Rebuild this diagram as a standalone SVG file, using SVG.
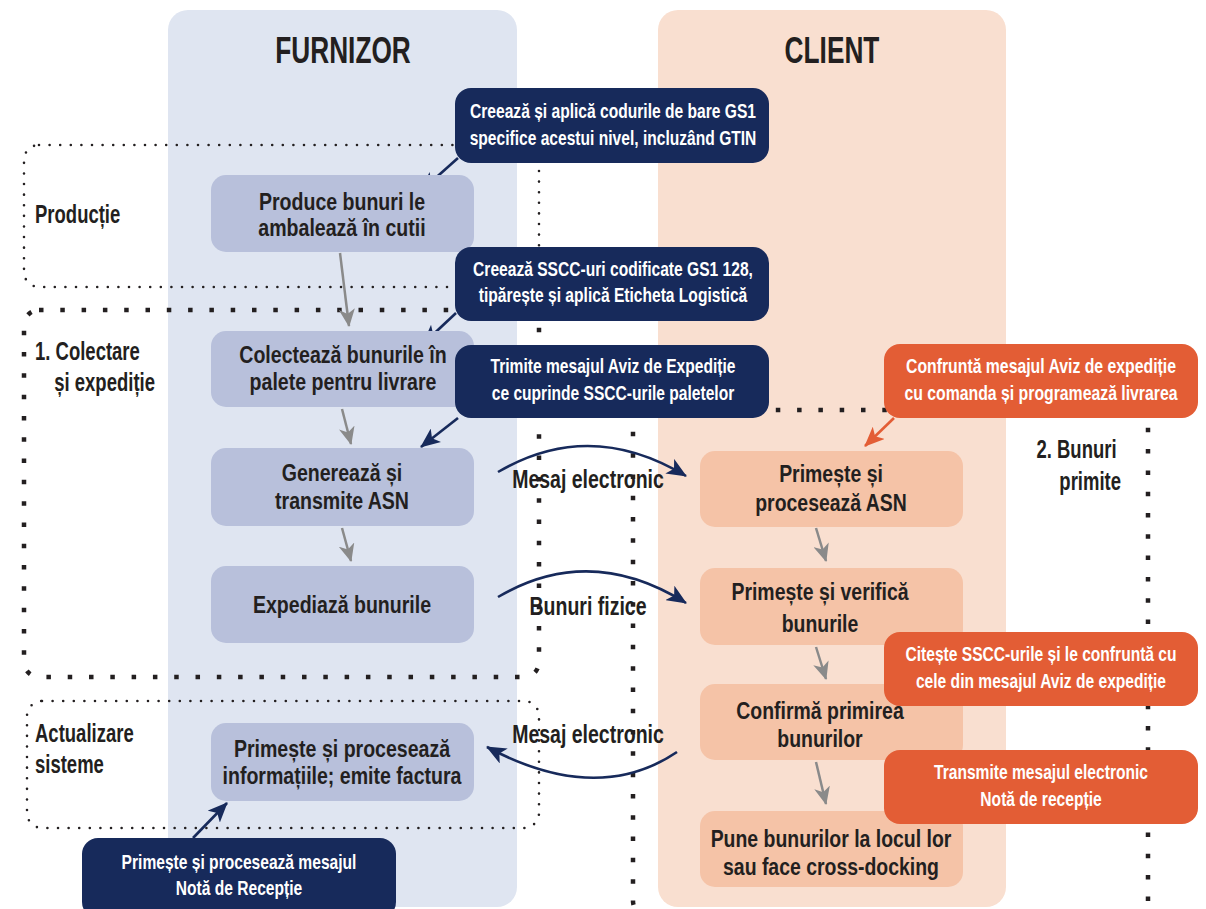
<svg xmlns="http://www.w3.org/2000/svg" width="1206" height="909" viewBox="0 0 1206 909">
<style>
text{font-family:"Liberation Sans",Arial,sans-serif;font-weight:bold;}
.dk{fill:#231f20;font-size:25px;}
.nt{fill:#231f20;font-size:24px;}
.ti{fill:#231f20;font-size:37px;}
.wh{fill:#ffffff;font-size:20px;}
.nf{fill:#b8c0db;}
.nc{fill:#f5c3a7;}
.cn{fill:#172a5b;}
.co{fill:#e35d35;}
.sd{fill:none;stroke:#231f20;stroke-width:2.6;stroke-dasharray:0 10.6;stroke-linecap:round;}
.hd{fill:none;stroke:#231f20;stroke-width:4.5;stroke-dasharray:4.5 16.8;}
.ag{fill:none;stroke:#8a8a8a;stroke-width:2.5;}
.an{fill:none;stroke:#172a5b;stroke-width:2.6;}
.ao{fill:none;stroke:#e35d35;stroke-width:2.6;}
</style>
<defs>
<marker id="mg" viewBox="0 0 18 16" refX="17" refY="8" markerWidth="18" markerHeight="16" orient="auto" markerUnits="userSpaceOnUse"><path d="M0,0 L18,8 L0,16 L5,8 z" fill="#8a8a8a"/></marker>
<marker id="mn" viewBox="0 0 20 17" refX="19" refY="8.5" markerWidth="20" markerHeight="17" orient="auto" markerUnits="userSpaceOnUse"><path d="M0,0 L20,8.5 L0,17 L5,8.5 z" fill="#172a5b"/></marker>
<marker id="mo" viewBox="0 0 20 17" refX="19" refY="8.5" markerWidth="20" markerHeight="17" orient="auto" markerUnits="userSpaceOnUse"><path d="M0,0 L20,8.5 L0,17 L5,8.5 z" fill="#e35d35"/></marker>
</defs>

<g id="lanes">
<rect x="168" y="10" width="349" height="897" rx="20" fill="#dfe5f1"/>
<rect x="658" y="10" width="348" height="897" rx="20" fill="#f9dfd0"/>
<text class="ti" transform="translate(343,0) scale(0.71,1)" text-anchor="middle" x="0" y="63">FURNIZOR</text>
<text class="ti" transform="translate(832,0) scale(0.71,1)" text-anchor="middle" x="0" y="63">CLIENT</text>
</g>

<g id="section-labels">
<text class="dk" transform="translate(35,0) scale(0.74,1)" x="0" y="223">Producție</text>
<text class="dk" transform="translate(35,0) scale(0.74,1)"><tspan x="0" y="360">1. Colectare</tspan><tspan x="26" y="391">și expediție</tspan></text>
<text class="dk" transform="translate(35,0) scale(0.74,1)"><tspan x="0" y="742">Actualizare</tspan><tspan x="0" y="773">sisteme</tspan></text>
<text class="dk" transform="translate(1121,0) scale(0.74,1)" text-anchor="end"><tspan x="-6" y="458">2. Bunuri</tspan><tspan x="0" y="490">primite</tspan></text>
</g>

<g id="flow-labels">
<text class="dk" transform="translate(588,0) scale(0.78,1)" text-anchor="middle" x="0" y="488">Mesaj electronic</text>
<text class="dk" transform="translate(588,0) scale(0.78,1)" text-anchor="middle" x="0" y="615">Bunuri fizice</text>
<text class="dk" transform="translate(588,0) scale(0.78,1)" text-anchor="middle" x="0" y="743">Mesaj electronic</text>
</g>

<g id="sections">
<rect class="sd" x="24" y="145" width="515" height="142" rx="15"/>
<rect class="hd" x="24" y="310" width="515" height="367" rx="15"/>
<rect class="sd" x="27" y="701" width="512" height="127" rx="15"/>
<rect class="hd" x="633" y="410" width="515" height="506" rx="15"/>
</g>

<g id="connectors">
<path class="ag" d="M340,253 L349,326" marker-end="url(#mg)"/>
<path class="ag" d="M342,409 L351,444" marker-end="url(#mg)"/>
<path class="ag" d="M342,528 L351,561" marker-end="url(#mg)"/>
<path class="ag" d="M816,528 L826,561" marker-end="url(#mg)"/>
<path class="ag" d="M816,647 L826,679" marker-end="url(#mg)"/>
<path class="ag" d="M816,762 L826,804" marker-end="url(#mg)"/>
<path class="an" d="M498,472 Q590,418 686,476" marker-end="url(#mn)"/>
<path class="an" d="M498,597 Q590,543 686,603" marker-end="url(#mn)"/>
<path class="an" d="M677,752 Q597,806 487,747" marker-end="url(#mn)"/>
<path class="an" d="M458,158 L421,191" marker-end="url(#mn)"/>
<path class="an" d="M456,313 L423,344" marker-end="url(#mn)"/>
<path class="an" d="M458,418 L421,447" marker-end="url(#mn)"/>
<path class="an" d="M193,838 L227,803" marker-end="url(#mn)"/>
<path class="ao" d="M894,418 L865,446" marker-end="url(#mo)"/>
<path class="ao" d="M890,641 L865,622" marker-end="url(#mo)"/>
<path class="ao" d="M888,757 L865,737" marker-end="url(#mo)"/>
</g>

<g id="n-produce">
<rect class="nf" x="211" y="175" width="263" height="77" rx="15"/>
<text class="nt" transform="translate(342,0) scale(0.815,1)" text-anchor="middle"><tspan x="0" y="210">Produce bunuri le</tspan><tspan x="0" y="236">ambalează în cutii</tspan></text>
</g>
<g id="n-colecteaza">
<rect class="nf" x="211" y="331" width="263" height="76" rx="15"/>
<text class="nt" transform="translate(343,0) scale(0.815,1)" text-anchor="middle"><tspan x="0" y="363">Colectează bunurile în</tspan><tspan x="0" y="390">palete pentru livrare</tspan></text>
</g>
<g id="n-genereaza">
<rect class="nf" x="211" y="448" width="263" height="78" rx="15"/>
<text class="nt" transform="translate(342,0) scale(0.815,1)" text-anchor="middle"><tspan x="0" y="481">Generează și</tspan><tspan x="0" y="509">transmite ASN</tspan></text>
</g>
<g id="n-expediaza">
<rect class="nf" x="211" y="566" width="263" height="77" rx="15"/>
<text class="nt" transform="translate(342,0) scale(0.815,1)" text-anchor="middle" x="0" y="613">Expediază bunurile</text>
</g>
<g id="n-factura">
<rect class="nf" x="211" y="723" width="263" height="78" rx="15"/>
<text class="nt" transform="translate(342,0) scale(0.815,1)" text-anchor="middle"><tspan x="0" y="757">Primește și procesează</tspan><tspan x="0" y="784">informațiile; emite factura</tspan></text>
</g>

<g id="n-asn">
<rect class="nc" x="700" y="451" width="263" height="76" rx="15"/>
<text class="nt" transform="translate(831,0) scale(0.81,1)" text-anchor="middle"><tspan x="0" y="482">Primește și</tspan><tspan x="0" y="511">procesează ASN</tspan></text>
</g>
<g id="n-verifica">
<rect class="nc" x="700" y="568" width="263" height="77" rx="15"/>
<text class="nt" transform="translate(820,0) scale(0.81,1)" text-anchor="middle"><tspan x="0" y="600">Primește și verifică</tspan><tspan x="0" y="632">bunurile</tspan></text>
</g>
<g id="n-confirma">
<rect class="nc" x="700" y="684" width="263" height="76" rx="15"/>
<text class="nt" transform="translate(820,0) scale(0.81,1)" text-anchor="middle"><tspan x="0" y="719">Confirmă primirea</tspan><tspan x="0" y="747">bunurilor</tspan></text>
</g>
<g id="n-pune">
<rect class="nc" x="700" y="811" width="263" height="76" rx="15"/>
<text class="nt" transform="translate(831,0) scale(0.81,1)" text-anchor="middle"><tspan x="0" y="847">Pune bunurilor la locul lor</tspan><tspan x="0" y="875">sau face cross-docking</tspan></text>
</g>

<g id="c-gs1">
<rect class="cn" x="455" y="88" width="314" height="75" rx="16"/>
<text class="wh" transform="translate(613,0) scale(0.78,1)" text-anchor="middle"><tspan x="0" y="118">Creează și aplică codurile de bare GS1</tspan><tspan x="0" y="145">specifice acestui nivel, incluzând GTIN</tspan></text>
</g>
<g id="c-sscc">
<rect class="cn" x="455" y="247" width="314" height="74" rx="16"/>
<text class="wh" transform="translate(613,0) scale(0.78,1)" text-anchor="middle"><tspan x="0" y="276">Creează SSCC-uri codificate GS1 128,</tspan><tspan x="0" y="302">tipărește și aplică Eticheta Logistică</tspan></text>
</g>
<g id="c-aviz">
<rect class="cn" x="455" y="345" width="314" height="73" rx="16"/>
<text class="wh" transform="translate(613,0) scale(0.78,1)" text-anchor="middle"><tspan x="0" y="373">Trimite mesajul Aviz de Expediție</tspan><tspan x="0" y="400">ce cuprinde SSCC-urile paletelor</tspan></text>
</g>
<g id="c-nota">
<rect class="cn" x="82" y="838" width="314" height="80" rx="16"/>
<text class="wh" transform="translate(239,0) scale(0.78,1)" text-anchor="middle"><tspan x="0" y="869">Primește și procesează mesajul</tspan><tspan x="0" y="895">Notă de Recepție</tspan></text>
</g>

<g id="o-confrunta">
<rect class="co" x="884" y="344" width="314" height="74" rx="16"/>
<text class="wh" transform="translate(1041,0) scale(0.79,1)" text-anchor="middle"><tspan x="0" y="373">Confruntă mesajul Aviz de expediție</tspan><tspan x="0" y="400">cu comanda și programează livrarea</tspan></text>
</g>
<g id="o-citeste">
<rect class="co" x="884" y="632" width="314" height="74" rx="16"/>
<text class="wh" transform="translate(1041,0) scale(0.78,1)" text-anchor="middle"><tspan x="0" y="661">Citește SSCC-urile și le confruntă cu</tspan><tspan x="0" y="688">cele din mesajul Aviz de expediție</tspan></text>
</g>
<g id="o-transmite">
<rect class="co" x="884" y="750" width="314" height="74" rx="16"/>
<text class="wh" transform="translate(1041,0) scale(0.78,1)" text-anchor="middle"><tspan x="0" y="779">Transmite mesajul electronic</tspan><tspan x="0" y="806">Notă de recepție</tspan></text>
</g>
</svg>
